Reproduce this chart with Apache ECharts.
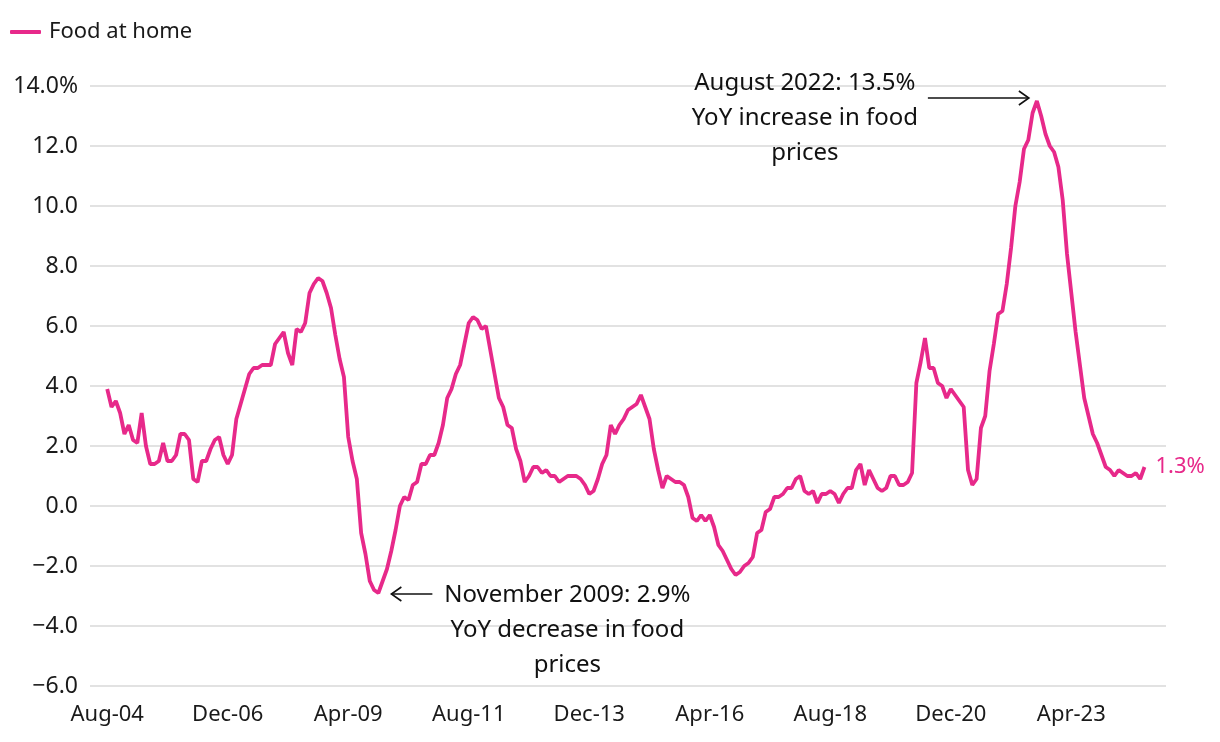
<!DOCTYPE html>
<html>
<head>
<meta charset="utf-8">
<script src="https://cdn.jsdelivr.net/npm/echarts@6/dist/echarts.min.js"></script>
<style>
  html, body { margin: 0; padding: 0; background: #fff; }
  #chart { width: 1220px; height: 742px; }
</style>
</head>
<body>
<div id="chart"></div>
<script>
// ---- Data (monthly YoY % change, Aug 2004 – Sep 2024) ----
const seriesName = 'Food at home';
const startYear = 2004;
const startMonthIndex = 7; // August
const monthNames = ['Jan','Feb','Mar','Apr','May','Jun','Jul','Aug','Sep','Oct','Nov','Dec'];

const values = [
  3.9, 3.3, 3.5, 3.1, 2.4, 2.7, 2.2, 2.1, 3.1, 2.0,
  1.4, 1.4, 1.5, 2.1, 1.5, 1.5, 1.7, 2.4, 2.4, 2.2,
  0.9, 0.8, 1.5, 1.5, 1.9, 2.2, 2.3, 1.7, 1.4, 1.7,
  2.9, 3.4, 3.9, 4.4, 4.6, 4.6, 4.7, 4.7, 4.7, 5.4,
  5.6, 5.8, 5.1, 4.7, 5.9, 5.8, 6.1, 7.1, 7.4, 7.6,
  7.5, 7.1, 6.6, 5.7, 4.9, 4.3, 2.3, 1.5, 0.9, -0.9,
  -1.6, -2.5, -2.8, -2.9, -2.5, -2.1, -1.5, -0.8, 0.0, 0.3,
  0.2, 0.7, 0.8, 1.4, 1.4, 1.7, 1.7, 2.1, 2.7, 3.6,
  3.9, 4.4, 4.7, 5.4, 6.1, 6.3, 6.2, 5.9, 6.0, 5.2,
  4.4, 3.6, 3.3, 2.7, 2.6, 1.9, 1.5, 0.8, 1.0, 1.3,
  1.3, 1.1, 1.2, 1.0, 1.0, 0.8, 0.9, 1.0, 1.0, 1.0,
  0.9, 0.7, 0.4, 0.5, 0.9, 1.4, 1.7, 2.7, 2.4, 2.7,
  2.9, 3.2, 3.3, 3.4, 3.7, 3.3, 2.9, 1.9, 1.2, 0.6,
  1.0, 0.9, 0.8, 0.8, 0.7, 0.3, -0.4, -0.5, -0.3, -0.5,
  -0.3, -0.7, -1.3, -1.5, -1.8, -2.1, -2.3, -2.2, -2.0, -1.9,
  -1.7, -0.9, -0.8, -0.2, -0.1, 0.3, 0.3, 0.4, 0.6, 0.6,
  0.9, 1.0, 0.5, 0.4, 0.5, 0.1, 0.4, 0.4, 0.5, 0.4,
  0.1, 0.4, 0.6, 0.6, 1.2, 1.4, 0.7, 1.2, 0.9, 0.6,
  0.5, 0.6, 1.0, 1.0, 0.7, 0.7, 0.8, 1.1, 4.1, 4.8,
  5.6, 4.6, 4.6, 4.1, 4.0, 3.6, 3.9, 3.7, 3.5, 3.3,
  1.2, 0.7, 0.9, 2.6, 3.0, 4.5, 5.4, 6.4, 6.5, 7.4,
  8.6, 10.0, 10.8, 11.9, 12.2, 13.1, 13.5, 13.0, 12.4, 12.0,
  11.8, 11.3, 10.2, 8.4, 7.1, 5.8, 4.7, 3.6, 3.0, 2.4,
  2.1, 1.7, 1.3, 1.2, 1.0, 1.2, 1.1, 1.0, 1.0, 1.1,
  0.9, 1.3
];

const tickLabels = ['Aug-04','Dec-06','Apr-09','Aug-11','Dec-13','Apr-16','Aug-18','Dec-20','Apr-23'];
const tickEveryMonths = 28;
const yTicks = { min: -6, max: 14, step: 2 };

const peakNote = ['August 2022: 13.5%', 'YoY increase in food', 'prices'];
const troughNote = ['November 2009: 2.9%', 'YoY decrease in food', 'prices'];

// ---- Build category axis (with some empty months of padding on each side) ----
const padBefore = 4, padAfter = 5;
function monthLabel(offset) {
  const total = startYear * 12 + startMonthIndex + offset;
  const y = Math.floor(total / 12), m = total % 12;
  return monthNames[m] + '-' + String(y % 100).padStart(2, '0');
}
const categories = [];
for (let i = -padBefore; i < values.length + padAfter; i++) categories.push(monthLabel(i));
const seriesData = new Array(padBefore).fill(null).concat(values);

const FONT = '"Noto Sans", "Open Sans", sans-serif';
const PINK = '#E7298A';
const TEXT = '#1a1a1a';

const chart = echarts.init(document.getElementById('chart'));
chart.setOption({
  animation: false,
  backgroundColor: '#fff',
  textStyle: { fontFamily: FONT },
  legend: {
    left: 10, top: 21, padding: 0,
    icon: 'roundRect',
    itemWidth: 31, itemHeight: 4,
    itemStyle: { color: PINK },
    textStyle: { fontSize: 22, color: TEXT, fontFamily: FONT, padding: [0, 0, 0, 3], lineHeight: 22 },
    data: [seriesName]
  },
  grid: { left: 90, right: 54, top: 86, bottom: 56, containLabel: false },
  xAxis: {
    type: 'category',
    data: categories,
    boundaryGap: false,
    axisLine: { show: false },
    axisTick: { show: false },
    splitLine: { show: false },
    axisLabel: {
      interval: function (i, v) {
        return i >= padBefore && (i - padBefore) % tickEveryMonths === 0 && tickLabels.indexOf(v) >= 0;
      },
      fontSize: 22, color: TEXT, fontFamily: FONT, margin: 18
    }
  },
  yAxis: {
    type: 'value',
    min: yTicks.min, max: yTicks.max, interval: yTicks.step,
    axisLine: { show: false },
    axisTick: { show: false },
    splitLine: { lineStyle: { color: '#d9d9d9', width: 1.5 } },
    axisLabel: {
      fontSize: 23, color: TEXT, fontFamily: FONT, margin: 12,
      formatter: function (v) {
        const s = Math.abs(v).toFixed(1);
        const txt = (v < 0 ? '\u2212' : '') + s;
        return v === yTicks.max ? txt + '%' : txt;
      }
    }
  },
  series: [{
    name: seriesName,
    type: 'line',
    data: seriesData,
    symbol: 'none',
    lineStyle: { color: PINK, width: 3.8 },
    itemStyle: { color: PINK },
    endLabel: {
      show: true,
      distance: 11,
      color: PINK,
      fontSize: 22,
      fontFamily: FONT,
      formatter: function () { return values[values.length - 1].toFixed(1) + '%'; }
    }
  }]
});

// ---- Annotations positioned from data coordinates ----
const maxV = Math.max.apply(null, values), minV = Math.min.apply(null, values);
const peakI = values.indexOf(maxV), troughI = values.indexOf(minV);
const pk = chart.convertToPixel({ xAxisIndex: 0, yAxisIndex: 0 }, [peakI + padBefore, maxV]);
const tr = chart.convertToPixel({ xAxisIndex: 0, yAxisIndex: 0 }, [troughI + padBefore, minV]);

function arrow(x1, y, x2) { // tail x1 -> tip x2
  const dir = x2 > x1 ? 1 : -1;
  return [
    { type: 'line', shape: { x1: x1, y1: y, x2: x2, y2: y }, style: { stroke: '#111', lineWidth: 1.6 } },
    { type: 'polyline', shape: { points: [[x2 - dir * 10, y - 7], [x2, y], [x2 - dir * 10, y + 7]] },
      style: { stroke: '#111', lineWidth: 1.6, fill: null } }
  ];
}
function note(lines, x, y) {
  return { type: 'text', x: x, y: y,
    style: { text: lines.join('\n'), fontSize: 24, fontFamily: FONT, fill: '#111',
             align: 'center', verticalAlign: 'middle', lineHeight: 35 } };
}

const graphics = []
  .concat(arrow(pk[0] - 109, pk[1] - 3, pk[0] - 8))
  .concat([note(peakNote, pk[0] - 232, pk[1] + 17)])
  .concat(arrow(tr[0] + 54, tr[1] + 1, tr[0] + 13))
  .concat([note(troughNote, tr[0] + 189, tr[1] + 37)]);

chart.setOption({ graphic: graphics });
</script>
</body>
</html>
